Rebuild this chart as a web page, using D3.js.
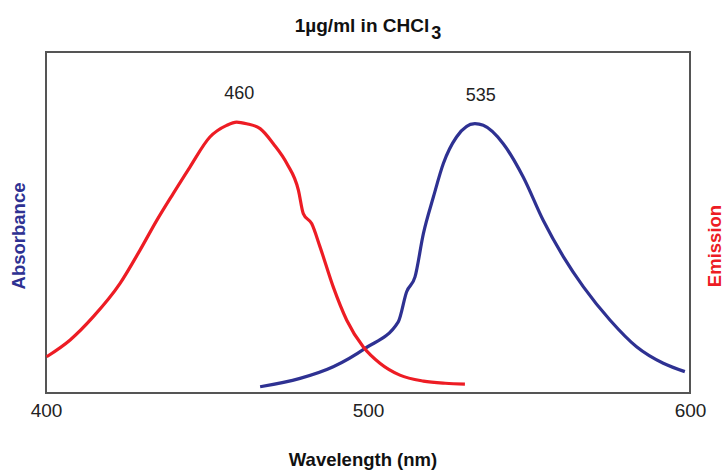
<!DOCTYPE html>
<html>
<head>
<meta charset="utf-8">
<script src="https://cdn.jsdelivr.net/npm/d3@7"></script>
<style>
  html, body { margin: 0; padding: 0; background: #fff; }
  svg { display: block; }
</style>
</head>
<body>
<svg id="chart" width="728" height="470"></svg>
<script>
// ---- data ----
const xTicks = [400, 500, 600];
const emissionWl  = [400.2, 407.5, 414.7, 423.0, 429.2, 434.4, 439.5, 444.7, 450.9, 456.1, 459.2, 462.3, 466.5, 470.6, 474.8, 478.4, 479.9, 482.5, 485.1, 489.2, 493.4, 498.5, 503.7, 509.9, 517.2, 524.0, 530.1];
const emissionVal = [0.134, 0.196, 0.282, 0.405, 0.528, 0.638, 0.737, 0.835, 0.946, 0.989, 1.001, 0.995, 0.977, 0.921, 0.848, 0.749, 0.663, 0.626, 0.540, 0.392, 0.269, 0.171, 0.110, 0.066, 0.044, 0.036, 0.033];
const absorbWl  = [466.5, 478.9, 489.2, 499.1, 509.4, 512.0, 514.6, 517.2, 520.3, 523.4, 527.5, 533.2, 535.8, 542.0, 548.2, 554.4, 560.7, 566.9, 575.2, 583.4, 591.7, 598.4];
const absorbVal = [0.023, 0.054, 0.097, 0.165, 0.263, 0.374, 0.429, 0.589, 0.724, 0.848, 0.946, 0.995, 0.989, 0.921, 0.798, 0.638, 0.503, 0.392, 0.269, 0.171, 0.110, 0.079];
const peakLabels = ["460", "535"];

const RED = "#ed1c24", NAVY = "#2e3192";
const FONT = "Liberation Sans, Arial, sans-serif";

const svg = d3.select("#chart");
const box = { left: 46, right: 690, top: 52, bottom: 393 };

const x = d3.scaleLinear().domain([400, 600]).range([box.left, box.right]);
const y = d3.scaleLinear().domain([0, 1.26]).range([box.bottom, box.top]);

// title
const title = svg.append("text")
  .attr("x", 368).attr("y", 32)
  .attr("text-anchor", "middle")
  .attr("font-family", FONT)
  .attr("font-weight", "bold")
  .attr("font-size", 19)
  .attr("fill", "#111");
title.append("tspan").text("1µg/ml in CHCl");
title.append("tspan").attr("dy", 7).attr("dx", 2).attr("font-size", 18).text("3");

// frame
svg.append("rect")
  .attr("x", box.left).attr("y", box.top)
  .attr("width", box.right - box.left).attr("height", box.bottom - box.top)
  .attr("fill", "none").attr("stroke", "#555").attr("stroke-width", 2);

// x axis labels
const xAxis = d3.axisBottom(x).tickValues(xTicks).tickSize(0).tickFormat(d3.format("d"));
const gx = svg.append("g").attr("transform", `translate(0,${box.bottom})`).call(xAxis);
gx.select(".domain").remove();
gx.selectAll("text")
  .attr("y", 24).attr("dy", 0)
  .attr("font-family", FONT)
  .attr("font-size", 19)
  .attr("fill", "#222");

// axis titles
svg.append("text")
  .attr("x", 363).attr("y", 466)
  .attr("text-anchor", "middle")
  .attr("font-family", FONT)
  .attr("font-weight", "bold").attr("font-size", 18.5)
  .attr("fill", "#111")
  .text("Wavelength (nm)");

svg.append("text")
  .attr("transform", "translate(25,236) rotate(-90)")
  .attr("text-anchor", "middle")
  .attr("font-family", FONT)
  .attr("font-weight", "bold").attr("font-size", 18.5)
  .attr("fill", NAVY)
  .text("Absorbance");

svg.append("text")
  .attr("transform", "translate(721,246) rotate(-90)")
  .attr("text-anchor", "middle")
  .attr("font-family", FONT)
  .attr("font-weight", "bold").attr("font-size", 18.5)
  .attr("fill", RED)
  .text("Emission");

// curves
const emission = emissionWl.map((w, i) => ({ w, v: emissionVal[i] }));
const absorb = absorbWl.map((w, i) => ({ w, v: absorbVal[i] }));
const line = d3.line().x(d => x(d.w)).y(d => y(d.v)).curve(d3.curveMonotoneX);

svg.append("path").datum(absorb)
  .attr("d", line).attr("fill", "none")
  .attr("stroke", NAVY).attr("stroke-width", 3.2).attr("stroke-linejoin", "round");

svg.append("path").datum(emission)
  .attr("d", line).attr("fill", "none")
  .attr("stroke", RED).attr("stroke-width", 3.2).attr("stroke-linejoin", "round");

// peak labels
[emission, absorb].forEach((series, i) => {
  const peak = series.reduce((a, b) => (b.v > a.v ? b : a));
  svg.append("text")
    .attr("x", x(+peakLabels[i])).attr("y", y(peak.v) - 23)
    .attr("text-anchor", "middle")
    .attr("font-family", FONT)
    .attr("font-size", 18)
    .attr("fill", "#222")
    .text(peakLabels[i]);
});
</script>
</body>
</html>
